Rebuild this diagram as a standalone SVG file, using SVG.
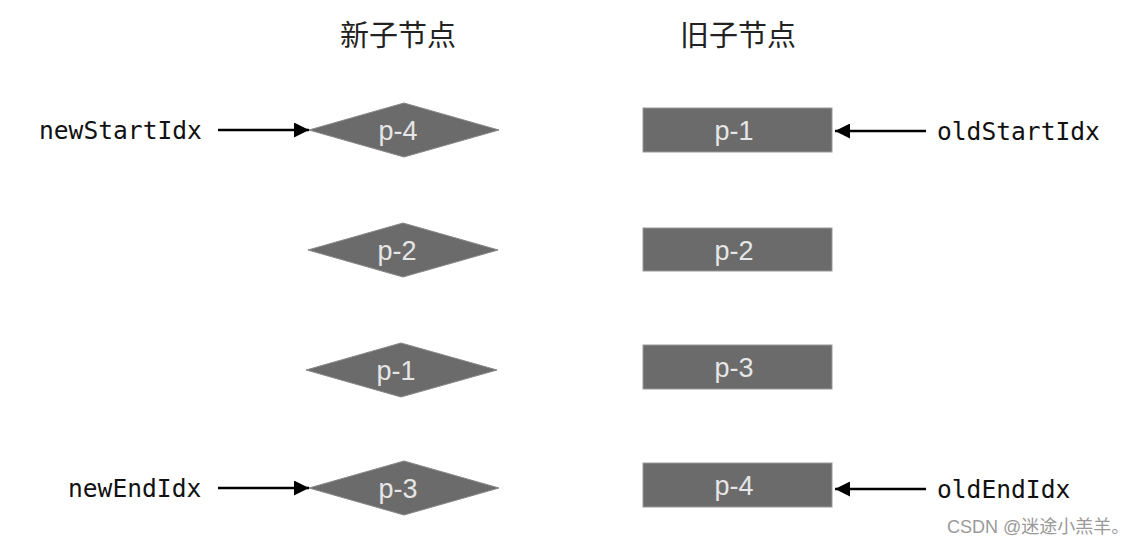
<svg xmlns="http://www.w3.org/2000/svg" width="1140" height="545" viewBox="0 0 1140 545">
<style>
.hdr{font-family:"Noto Sans CJK SC","Noto Sans",sans-serif;font-size:29px;fill:#222}
.lbl{font-family:"DejaVu Sans Mono",monospace;font-size:24.6px;fill:#111}
.nt{font-family:"Liberation Sans",Arial,sans-serif;font-size:27px;fill:#e6e6e6;text-anchor:middle}
.dia{fill:#6b6b6b;stroke:#888;stroke-width:1}
.box{fill:#6b6b6b;stroke:#999;stroke-width:1}
.arr{stroke:#000;stroke-width:2.5;fill:none;marker-end:url(#ah)}
.wm{font-family:"Liberation Sans","Noto Sans CJK SC",sans-serif;font-size:18px;fill:#9a9a9a}
</style>
<defs>
<marker id="ah" viewBox="0 0 10 10" refX="10" refY="5" markerWidth="6.8" markerHeight="6" orient="auto" markerUnits="strokeWidth">
<path d="M0,0 L10,5 L0,10 z" fill="#000"/>
</marker>
</defs>
<rect width="1140" height="545" fill="#fff"/>
<text class="hdr" x="340" y="46">新子节点</text>
<text class="hdr" x="680" y="46">旧子节点</text>

<g id="new-p4"><polygon class="dia" points="309,130 404,103 499,130 404,157"/><text class="nt" x="398" y="140">p-4</text></g>
<g id="new-p2"><polygon class="dia" points="308,250 403,223 498,250 403,277"/><text class="nt" x="397" y="260">p-2</text></g>
<g id="new-p1"><polygon class="dia" points="306,370 401,343 497,370 401,397"/><text class="nt" x="396" y="380">p-1</text></g>
<g id="new-p3"><polygon class="dia" points="309,488 404,461 499,488 404,515"/><text class="nt" x="398" y="498">p-3</text></g>

<g id="old-p1"><rect class="box" x="643" y="108" width="189" height="44"/><text class="nt" x="734" y="140">p-1</text></g>
<g id="old-p2"><rect class="box" x="643" y="228" width="189" height="43"/><text class="nt" x="734" y="260">p-2</text></g>
<g id="old-p3"><rect class="box" x="643" y="345" width="189" height="44"/><text class="nt" x="734" y="377">p-3</text></g>
<g id="old-p4"><rect class="box" x="643" y="463" width="189" height="44"/><text class="nt" x="734" y="495">p-4</text></g>

<g id="newStartIdx"><text class="lbl" x="39" y="139">newStartIdx</text></g>
<g id="newEndIdx"><text class="lbl" x="68" y="497">newEndIdx</text></g>
<g id="oldStartIdx"><text class="lbl" x="937" y="140">oldStartIdx</text></g>
<g id="oldEndIdx"><text class="lbl" x="937" y="498">oldEndIdx</text></g>

<g id="connectors">
<line class="arr" x1="218" y1="130" x2="309" y2="130"/>
<line class="arr" x1="218" y1="488" x2="309" y2="488"/>
<line class="arr" x1="926" y1="131" x2="835" y2="131"/>
<line class="arr" x1="926" y1="489" x2="835" y2="489"/>
</g>

<text class="wm" x="947" y="533">CSDN @迷途小羔羊。</text>
</svg>
